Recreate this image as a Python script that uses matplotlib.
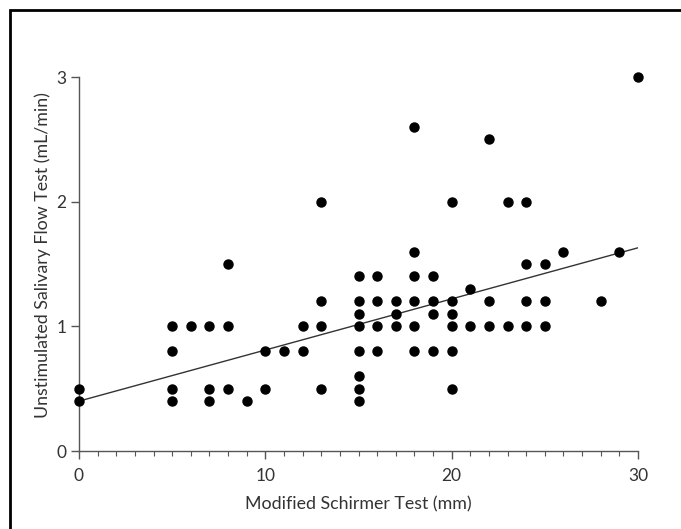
import numpy as np
import matplotlib
matplotlib.use("Agg")
import matplotlib.pyplot as plt
from matplotlib.patches import Rectangle
from matplotlib.ticker import MultipleLocator

# Modified Schirmer Test (mm) -> Unstimulated Salivary Flow (mL/min)
schirmer = [0, 0,
            5, 5, 5, 5,
            6,
            7, 7, 7,
            8, 8, 8,
            9,
            10, 10,
            11,
            12, 12,
            13, 13, 13, 13,
            15, 15, 15, 15, 15, 15, 15, 15,
            16, 16, 16, 16,
            17, 17, 17,
            18, 18, 18, 18, 18, 18,
            19, 19, 19, 19,
            20, 20, 20, 20, 20, 20,
            21, 21,
            22, 22, 22,
            23, 23,
            24, 24, 24, 24,
            25, 25, 25,
            26, 28, 29, 30]
flow = [0.5, 0.4,
        1.0, 0.8, 0.5, 0.4,
        1.0,
        1.0, 0.5, 0.4,
        1.5, 1.0, 0.5,
        0.4,
        0.8, 0.5,
        0.8,
        1.0, 0.8,
        2.0, 1.2, 1.0, 0.5,
        1.4, 1.2, 1.1, 1.0, 0.8, 0.6, 0.5, 0.4,
        1.4, 1.2, 1.0, 0.8,
        1.2, 1.1, 1.0,
        2.6, 1.6, 1.4, 1.2, 1.0, 0.8,
        1.4, 1.2, 1.1, 0.8,
        2.0, 1.2, 1.1, 1.0, 0.8, 0.5,
        1.3, 1.0,
        2.5, 1.2, 1.0,
        2.0, 1.0,
        2.0, 1.5, 1.2, 1.0,
        1.5, 1.2, 1.0,
        1.6, 1.2, 1.6, 3.0]

# regression line
fit_intercept = 0.40
fit_slope = 0.041

plt.rcParams['font.family'] = ['Lato', 'DejaVu Sans']
txt = '#333333'

fig = plt.figure(figsize=(6.81, 5.29), dpi=100)
ax = fig.add_axes([79 / 681, 78 / 529, 559 / 681, 374 / 529])

ax.plot(schirmer, flow, 'o', color='black', markersize=6.5, clip_on=False, zorder=3)

line_x = np.array([0, 30])
ax.plot(line_x, fit_intercept + fit_slope * line_x, color='#333333', lw=1.0, zorder=2)

ax.set_xlim(0, 30)
ax.set_ylim(0, 3)
ax.spines['top'].set_visible(False)
ax.spines['right'].set_visible(False)
for s in ['left', 'bottom']:
    ax.spines[s].set_color('#555555')
    ax.spines[s].set_linewidth(1.0)

ax.xaxis.set_major_locator(MultipleLocator(10))
ax.xaxis.set_minor_locator(MultipleLocator(1))
ax.yaxis.set_major_locator(MultipleLocator(1))
ax.tick_params(axis='both', which='major', length=6, width=1.0, color='#555555',
               labelsize=12.5, labelcolor=txt, pad=3)
ax.tick_params(axis='x', which='major', pad=6)
ax.tick_params(axis='x', which='minor', length=3.5, width=0.8, color='#555555')

ax.set_xlabel('Modified Schirmer Test (mm)', fontsize=12.8, color=txt, labelpad=9)
ax.set_ylabel('Unstimulated Salivary Flow Test (mL/min)', fontsize=12.8, color=txt)
ax.yaxis.set_label_coords(-0.05, 0.524)

# outer frame (cut off at the right and bottom)
fig.patches.append(Rectangle((10 / 681, -0.1), 1.2, (529 - 10) / 529 + 0.1,
                             transform=fig.transFigure, fill=False,
                             edgecolor='black', lw=2, zorder=10))

fig.savefig('out.png', dpi=100)
